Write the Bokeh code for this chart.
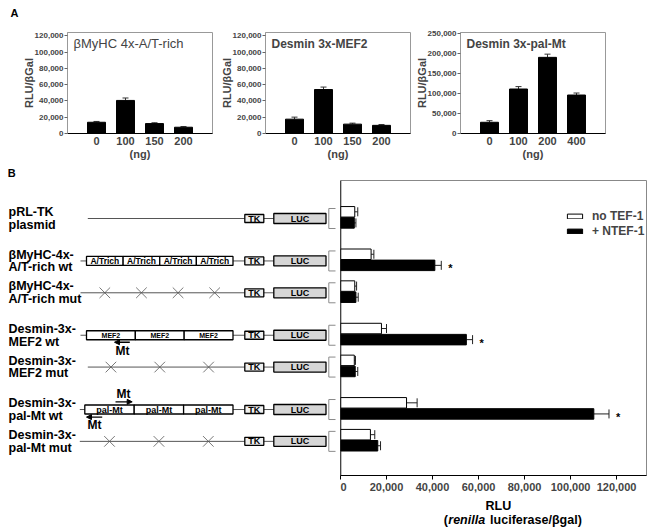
from bokeh.plotting import figure
from bokeh.models import (Range1d, ColumnDataSource, Whisker, TeeHead, Label, NumeralTickFormatter,
                          FixedTicker, Span, Legend, LegendItem, Arrow, NormalHead)
from bokeh.layouts import row, column
from bokeh.core.properties import value
from bokeh.embed import file_html
from bokeh.resources import INLINE

FONT = "Liberation Sans"

# ---------------- Panel A data ----------------
a_titles = ["βMyHC 4x-A/T-rich", "Desmin 3x-MEF2", "Desmin 3x-pal-Mt"]
a1_doses = ["0", "100", "150", "200"]
a1_vals = [13800, 40600, 12200, 7700]
a1_errs = [1000, 3000, 1000, 800]
a2_doses = ["0", "100", "150", "200"]
a2_vals = [17600, 54000, 11500, 10000]
a2_errs = [2500, 3000, 1200, 1000]
a3_doses = ["0", "100", "200", "400"]
a3_vals = [28000, 111000, 190000, 96000]
a3_errs = [4000, 6000, 8000, 5000]
a_ymax = [124000, 124000, 252000]
a_tick_step = [20000, 20000, 50000]
a_ylabel = "RLU/βGal"
a_xlabel = "(ng)"

# ---------------- Panel B data ----------------
construct_line1 = ["pRL-TK", "βMyHC-4x-", "βMyHC-4x-", "Desmin-3x-", "Desmin-3x-", "Desmin-3x-", "Desmin-3x-"]
construct_line2 = ["plasmid", "A/T-rich wt", "A/T-rich mut", "MEF2 wt", "MEF2 mut", "pal-Mt wt", "pal-Mt mut"]
element_name = ["", "A/Trich", "A/Trich", "MEF2", "MEF2", "pal-Mt", "pal-Mt"]
element_count = [0, 4, 4, 3, 3, 3, 3]
mutated = [False, False, True, False, True, False, True]
no_tef = [6200, 13300, 6200, 17800, 6000, 28700, 13000]
no_tef_err = [1300, 1200, 800, 2200, 500, 4600, 1900]
ntef = [6000, 41000, 6700, 54700, 6400, 110100, 16200]
ntef_err = [700, 2800, 1000, 2700, 1100, 6600, 1200]
significant = [False, True, False, True, False, True, False]
b_xticks = [0, 20000, 40000, 60000, 80000, 100000, 120000]
series_labels = ["no TEF-1", "+ NTEF-1"]


def txt(p, x, y, t, size, style="bold", align="left"):
    p.text(x=x, y=y, text=t, text_font=value(FONT), text_font_style=style,
           text_font_size=value(size), text_align=align, text_baseline="middle")


def blank(width, height, x0, x1, y0, y1):
    f = figure(width=width, height=height, x_range=Range1d(x0, x1), y_range=Range1d(y1, y0),
               min_border_left=0, min_border_right=0, min_border_top=0, min_border_bottom=0,
               x_axis_location=None, y_axis_location=None, output_backend="svg",
               toolbar_location=None, outline_line_color=None)
    f.grid.visible = False
    return f


# strip holding the panel letter "A" (page pixel coordinates)
strip = blank(656, 22, 0, 656, 0, 22)
txt(strip, [10], [12.5], ["A"], "11px")


def panel_a(title, doses, vals, errs, ymax, step, width, bl, br, tstyle, tsize):
    p = figure(width=width, height=140, x_range=Range1d(-1, len(doses)), y_range=Range1d(0, ymax),
               output_backend="svg", toolbar_location=None,
               min_border_left=bl, min_border_right=br, min_border_top=10, min_border_bottom=29,
               outline_line_color="#999999", background_fill_color="white")
    p.grid.visible = False
    xs = list(range(len(doses)))
    src = ColumnDataSource(dict(x=xs, v=vals, hi=[v + e for v, e in zip(vals, errs)]))
    p.vbar(x="x", top="v", width=0.62, source=src, fill_color="black", line_color="black")
    p.add_layout(Whisker(base="x", lower="v", upper="hi", source=src, dimension="height",
                         line_color="#333333", line_width=1,
                         upper_head=TeeHead(size=6, line_color="#333333", line_width=1), lower_head=None))
    p.xaxis.ticker = FixedTicker(ticks=xs)
    p.xaxis.major_label_overrides = {i: d for i, d in zip(xs, doses)}
    p.xaxis.major_tick_out = 0
    p.xaxis.major_tick_in = 0
    p.xaxis.minor_tick_out = 0
    p.xaxis.axis_line_color = "black"
    p.xaxis.major_label_text_font = FONT
    p.xaxis.major_label_text_font_style = "bold"
    p.xaxis.major_label_text_font_size = "11px"
    p.xaxis.major_label_standoff = 3
    p.xaxis.axis_label = a_xlabel
    p.xaxis.axis_label_text_font = FONT
    p.xaxis.axis_label_text_font_style = "bold"
    p.xaxis.axis_label_text_font_size = "11px"
    p.xaxis.axis_label_standoff = 0

    p.yaxis.ticker = FixedTicker(ticks=list(range(0, ymax + 1, step)))
    p.yaxis.formatter = NumeralTickFormatter(format="0,0")
    p.yaxis.axis_line_color = "#999999"
    p.yaxis.major_tick_out = 3
    p.yaxis.major_tick_in = 0
    p.yaxis.major_tick_line_color = "#666666"
    p.yaxis.minor_tick_out = 0
    p.yaxis.minor_tick_in = 0
    p.yaxis.major_label_text_font = FONT
    p.yaxis.major_label_text_font_style = "bold"
    p.yaxis.major_label_text_font_size = "8px"
    p.yaxis.major_label_standoff = 1
    p.yaxis.axis_label = a_ylabel
    p.yaxis.axis_label_text_font = FONT
    p.yaxis.axis_label_text_font_style = "bold"
    p.yaxis.axis_label_text_font_size = "11px"
    p.yaxis.axis_label_standoff = -3

    p.add_layout(Label(x=6, y=90, x_units="screen", y_units="screen", text=title,
                       text_font=FONT, text_font_style=tstyle, text_font_size=tsize,
                       text_baseline="middle", text_align="left"))
    return p


p1 = panel_a(a_titles[0], a1_doses, a1_vals, a1_errs, a_ymax[0], a_tick_step[0], 217, 67, 5, "normal", "13px")
p2 = panel_a(a_titles[1], a2_doses, a2_vals, a2_errs, a_ymax[1], a_tick_step[1], 195, 48, 2, "bold", "12px")
p3 = panel_a(a_titles[2], a3_doses, a3_vals, a3_errs, a_ymax[2], a_tick_step[2], 244, 48, 51, "bold", "12px")

# ---------------- Panel B layout ----------------
n = len(construct_line1)
slot = [0, 4 / 3, 7 / 3, 11 / 3, 14 / 3, 6, 7]
FRAME_TOP, FRAME_H = 180, 295
y_start = slot[-1] + 1.11
y_end = slot[0] - 1.156
yr = Range1d(start=y_start, end=y_end)
PX = FRAME_H / (y_start - y_end)

# Diagram figure (page pixel coordinates)
B_TOP = 162
pd = blank(340, 531 - B_TOP, 0, 340, B_TOP, 531)
ry = [FRAME_TOP + (s - y_end) * PX + 1.2 for s in slot]
line_start = [87.3, 80, 80, 80, 87.3, 79.3, 79.3]
box_start = [86, 86, 86, 86, 86, 84.3, 84.3]
BOX_END = 232.5
TK_L, TK_R = 244.3, 263.3
LUC_L, LUC_R = 273.3, 325.5

txt(pd, [7.3], [172], ["B"], "11px")
pd.segment(x0=line_start, y0=ry, x1=[TK_L] * n, y1=ry, line_color="#555555", line_width=1)
pd.segment(x0=[TK_R] * n, y0=ry, x1=[LUC_L] * n, y1=ry, line_color="#555555", line_width=1)
pd.quad(left=[TK_L] * n, right=[TK_R] * n, top=[y - 4 for y in ry], bottom=[y + 4 for y in ry],
        fill_color="#efefef", line_color="black", line_width=1.3)
pd.quad(left=[LUC_L] * n, right=[LUC_R] * n, top=[y - 5 for y in ry], bottom=[y + 5 for y in ry],
        fill_color="#d6d6d6", line_color="black", line_width=1.3)
txt(pd, [(TK_L + TK_R) / 2] * n, ry, ["TK"] * n, "9px", align="center")
txt(pd, [(LUC_L + LUC_R) / 2] * n, ry, ["LUC"] * n, "9px", align="center")

bx, by = [], []
for y in ry:
    bx.append([335, 328.3, 328.3, 335])
    by.append([y - 10, y - 10, y + 10, y + 10])
pd.multi_line(xs=bx, ys=by, line_color="#8a8a8a", line_width=1)

txt(pd, [8] * n, [y - 6.4 for y in ry], construct_line1, "12.5px")
txt(pd, [8] * n, [y + 6.4 for y in ry], construct_line2, "12.5px")

el_size = {"A/Trich": "8.5px", "MEF2": "7px", "pal-Mt": "9px"}
for i in range(n):
    k = element_count[i]
    if k == 0:
        continue
    w = (BOX_END - box_start[i]) / k
    lefts = [box_start[i] + j * w for j in range(k)]
    centers = [l + w / 2 for l in lefts]
    if mutated[i]:
        pd.scatter(x=centers, y=[ry[i]] * k, marker="x", size=15, line_color="#555555", line_width=0.8)
    else:
        pd.quad(left=lefts, right=[l + w for l in lefts], top=[ry[i] - 4.5] * k,
                bottom=[ry[i] + 4.5] * k, fill_color="white", line_color="black", line_width=1.3)
        txt(pd, centers, [ry[i]] * k, [element_name[i]] * k, el_size[element_name[i]], align="center")

mt_marks = [(3, 129.3, 114.0, 7.0, 122, 15.6), (5, 115.0, 131.7, -7.7, 123, -15.4), (5, 101.7, 86.0, 7.6, 94, 15.8)]
for (ri, xs_, xe_, dy, tx, ty) in mt_marks:
    pd.add_layout(Arrow(x_start=xs_, y_start=ry[ri] + dy, x_end=xe_, y_end=ry[ri] + dy,
                        line_color="black", line_width=1.3,
                        end=NormalHead(size=5, fill_color="black", line_color="black")))
    txt(pd, [tx], [ry[ri] + ty], ["Mt"], "12px", align="center")

# Bar figure
pb = figure(width=316, height=335, x_range=Range1d(0, 133000), y_range=yr,
            min_border_left=0, min_border_right=10, min_border_top=FRAME_TOP - B_TOP, min_border_bottom=22,
            y_axis_location=None, output_backend="svg", toolbar_location=None,
            outline_line_color="#888888")
pb.grid.visible = False
yw = [s - 5.5 / PX for s in slot]
yb = [s + 5.6 / PX for s in slot]
BH = 10.5 / PX
src_w = ColumnDataSource(dict(y=yw, v=no_tef, hi=[v + e for v, e in zip(no_tef, no_tef_err)]))
src_b = ColumnDataSource(dict(y=yb, v=ntef, hi=[v + e for v, e in zip(ntef, ntef_err)]))
hw = pb.hbar(y="y", left=0, right="v", height=BH, source=src_w, fill_color="white", line_color="black", line_width=1)
hb = pb.hbar(y="y", left=0, right="v", height=BH, source=src_b, fill_color="black", line_color="black", line_width=1)
for s in (src_w, src_b):
    pb.add_layout(Whisker(base="y", lower="v", upper="hi", source=s, dimension="width",
                          line_color="#222222", line_width=1,
                          upper_head=TeeHead(size=9, line_color="#222222", line_width=1), lower_head=None))
sx = [ntef[i] + ntef_err[i] for i in range(n) if significant[i]]
sy = [yb[i] for i in range(n) if significant[i]]
pb.text(x=sx, y=sy, text=["*"] * len(sx), x_offset=7, y_offset=3, text_font=value(FONT),
        text_font_style="bold", text_font_size=value("11px"), text_align="left", text_baseline="middle")

pb.add_layout(Span(location=0, dimension="height", line_color="black", line_width=1.5))
pb.xaxis.ticker = FixedTicker(ticks=b_xticks)
pb.xaxis.formatter = NumeralTickFormatter(format="0,0")
pb.xaxis.axis_line_color = "black"
pb.xaxis.major_tick_out = 4
pb.xaxis.major_tick_in = 0
pb.xaxis.minor_tick_out = 0
pb.xaxis.minor_tick_in = 0
pb.xaxis.major_label_text_font = FONT
pb.xaxis.major_label_text_font_style = "bold"
pb.xaxis.major_label_text_font_size = "11px"
pb.xaxis.major_label_standoff = 3

legend = Legend(items=[LegendItem(label=series_labels[0], renderers=[hw]),
                       LegendItem(label=series_labels[1], renderers=[hb])],
                location=(225, 237), glyph_width=19, glyph_height=6, label_height=12, label_standoff=8,
                spacing=1, padding=0, margin=0, border_line_color=None, background_fill_alpha=0,
                label_text_font=FONT, label_text_font_style="bold", label_text_font_size="12px")
pb.add_layout(legend)

# x-axis title of panel B (page pixel coordinates)
plab = blank(316, 531 - 497, 340, 656, 497, 531)
txt(plab, [503], [505.7], ["RLU"], "12.5px", align="center")
txt(plab, [446.7], [519.5], ["("], "12.5px")
txt(plab, [451.3], [519.5], ["renilla"], "12.5px", style="bold italic")
txt(plab, [494.5], [519.5], ["luciferase/βgal)"], "12.5px")

layout = column(strip, row(p1, p2, p3), row(pd, column(pb, plab)))
open("out.html", "w").write(file_html(layout, INLINE))
